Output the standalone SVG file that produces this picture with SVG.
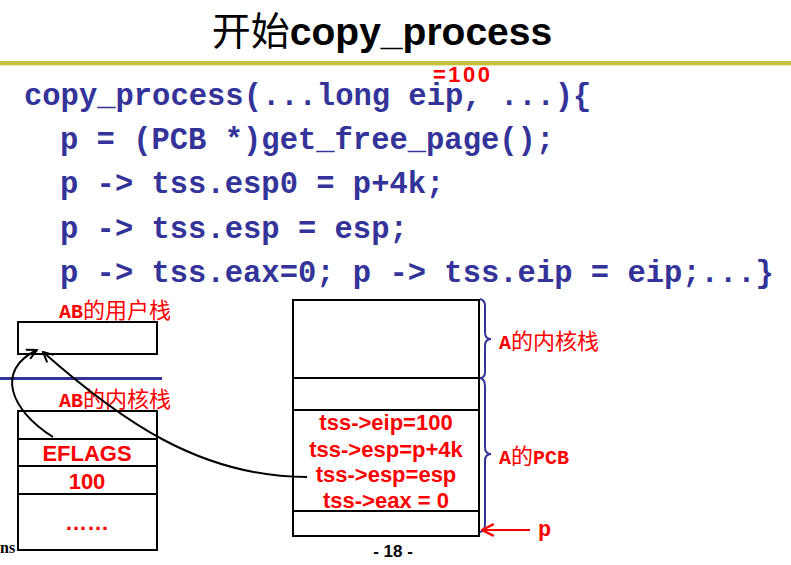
<svg xmlns="http://www.w3.org/2000/svg" width="791" height="565" viewBox="0 0 791 565">
<defs>
<style>
.code{font-family:"Liberation Mono","Courier New",monospace;font-weight:bold;font-size:30.5px;fill:#333399}
.red{fill:#ff0000;font-weight:bold}
.lbl{font-family:"Liberation Mono","Courier New",monospace;font-size:20px;fill:#ff0000}
.cjk{font-family:"Noto Sans CJK SC",sans-serif;font-size:22px;font-weight:normal}
.box{fill:#ffffff;stroke:#000000;stroke-width:2}
.div{stroke:#000000;stroke-width:2}
.tss{font-family:"Liberation Sans",Arial,sans-serif;font-weight:bold;font-size:22px;fill:#ff0000;text-anchor:middle}
.brace{fill:none;stroke:#333399;stroke-width:2}
.conn{fill:none;stroke:#000000;stroke-width:2}
</style>
<marker id="arr" viewBox="0 0 12 12" refX="11" refY="6" markerWidth="12" markerHeight="12" markerUnits="userSpaceOnUse" orient="auto">
<path d="M1,1 L11,6 L1,11" fill="none" stroke="#000" stroke-width="2"/>
</marker>
<marker id="arrR" viewBox="0 0 12 12" refX="11" refY="6" markerWidth="14" markerHeight="14" markerUnits="userSpaceOnUse" orient="auto">
<path d="M1,1 L11,6 L1,11" fill="none" stroke="#ff0000" stroke-width="2"/>
</marker>
</defs>
<rect width="791" height="565" fill="#ffffff"/>
<g id="title">
<text x="382" y="45" text-anchor="middle" font-size="39" fill="#000"><tspan font-family="Noto Sans CJK SC,sans-serif">开始</tspan><tspan font-family="Liberation Sans,Arial,sans-serif" font-weight="bold">copy_process</tspan></text>
<rect x="0" y="61" width="791" height="4" fill="#c4c23e"/>
<rect x="0" y="65" width="791" height="1" fill="#e6e6b4"/>
</g>
<g id="code">
<text x="433" y="82" font-family="Liberation Sans,Arial,sans-serif" font-size="22" letter-spacing="2.5" class="red">=100</text>
<text class="code" x="24" y="105">copy_process(...long eip, ...){</text>
<text class="code" x="60" y="149">p = (PCB *)get_free_page();</text>
<text class="code" x="60" y="193">p -&gt; tss.esp0 = p+4k;</text>
<text class="code" x="60" y="238">p -&gt; tss.esp = esp;</text>
<text class="code" x="60" y="282">p -&gt; tss.eax=0; p -&gt; tss.eip = eip;...}</text>
</g>
<g id="user-stack">
<text class="lbl" x="59" y="318"><tspan font-weight="bold">AB</tspan><tspan class="cjk">的用户栈</tspan></text>
<rect class="box" x="18" y="322" width="139" height="32"/>
</g>
<rect id="divider" x="0" y="377" width="162" height="3" fill="#333399"/>
<g id="kernel-stack">
<text class="lbl" x="59" y="407"><tspan font-weight="bold">AB</tspan><tspan class="cjk">的内核栈</tspan></text>
<rect class="box" x="18" y="411" width="139" height="139"/>
<line class="div" x1="18" y1="439" x2="157" y2="439"/>
<line class="div" x1="18" y1="466" x2="157" y2="466"/>
<line class="div" x1="18" y1="494" x2="157" y2="494"/>
<text class="tss" x="87" y="461">EFLAGS</text>
<text class="tss" x="87" y="489">100</text>
<text class="tss" x="87" y="530">……</text>
</g>
<g id="pcb">
<rect class="box" x="293" y="300" width="186" height="236"/>
<line class="div" x1="293" y1="378" x2="479" y2="378"/>
<line class="div" x1="293" y1="410" x2="479" y2="410"/>
<line class="div" x1="293" y1="511" x2="479" y2="511"/>
<text class="tss" x="386" y="430">tss-&gt;eip=100</text>
<text class="tss" x="386" y="457">tss-&gt;esp=p+4k</text>
<text class="tss" x="386" y="482">tss-&gt;esp=esp</text>
<text class="tss" x="386" y="508">tss-&gt;eax = 0</text>
</g>
<g id="braces">
<path class="brace" d="M480,299 Q485,300 485,306 L485,332 Q485,339 491,339 Q485,339 485,346 L485,372 Q485,378 480,378"/>
<path class="brace" d="M480,378 Q485,379 485,386 L485,447 Q485,454 491,454 Q485,454 485,461 L485,524 Q485,531 480,532"/>
<text class="lbl" x="499" y="349"><tspan font-weight="bold">A</tspan><tspan class="cjk">的内核栈</tspan></text>
<text class="lbl" x="499" y="464"><tspan font-weight="bold">A</tspan><tspan class="cjk">的</tspan><tspan font-weight="bold">PCB</tspan></text>
</g>
<g id="p-pointer">
<line x1="530" y1="530" x2="482" y2="530" stroke="#ff0000" stroke-width="2" marker-end="url(#arrR)"/>
<text x="538" y="536" font-family="Liberation Mono,monospace" font-weight="bold" font-size="22" fill="#ff0000">p</text>
</g>
<g id="connectors">
<path class="conn" d="M53,437 C10,410 -5,370 37,350" marker-end="url(#arr)"/>
<path class="conn" d="M307,477 C200,477 120,420 43,352" marker-end="url(#arr)"/>
</g>
<g id="footer">
<text x="393" y="557" text-anchor="middle" font-family="Liberation Sans,Arial,sans-serif" font-weight="bold" font-size="17" fill="#000">- 18 -</text>
<text x="0" y="553" font-family="Liberation Serif,serif" font-weight="bold" font-size="16" fill="#000">ns</text>
</g>
</svg>
